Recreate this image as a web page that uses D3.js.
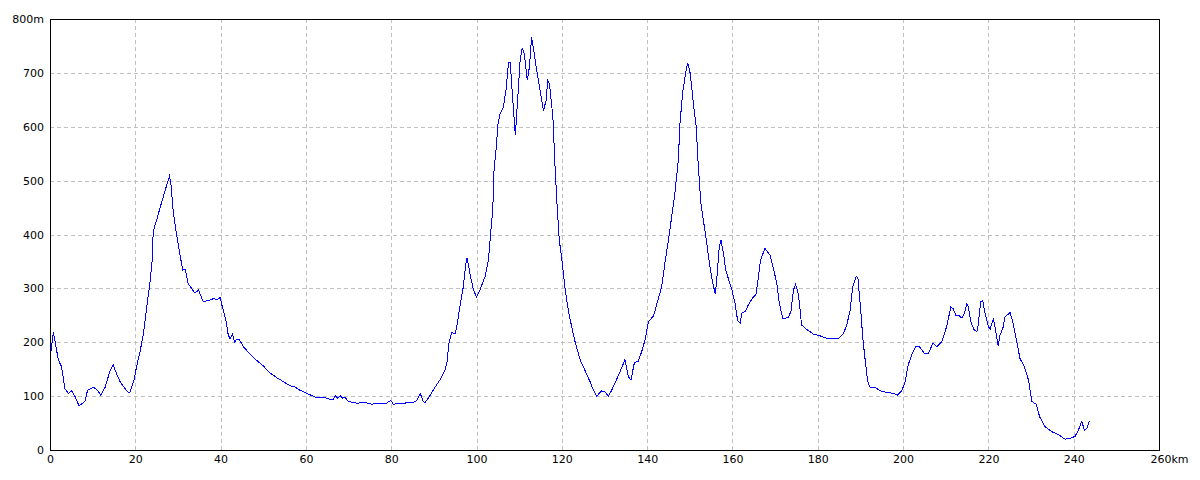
<!DOCTYPE html>
<html>
<head>
<meta charset="utf-8">
<title>Elevation profile</title>
<script src="https://cdn.jsdelivr.net/npm/d3@7"></script>
<style>
  body { margin: 0; background: #fff; }
  svg text { font-family: "DejaVu Sans", sans-serif; font-size: 11px; fill: #000; }
</style>
</head>
<body>
<svg id="chart" width="1200" height="480"></svg>
<script>
// distance along route (km)
var dist = [0, 0.2, 0.78, 1.4, 1.96, 2.7, 3.5, 4.3, 5.1, 5.9, 6.8, 7.8, 8.2, 8.8, 10.2, 10.9, 11.9, 12.9, 14.1, 14.8,
  15.6, 16.4, 17.4, 18.4, 18.8, 19.7, 20.3, 21.1, 21.9, 22.7, 23.4, 23.9, 24.2, 25.0, 26.0, 27.0, 28.0, 28.3, 28.9, 29.5,
  30.3, 31.1, 31.7, 32.4, 33.2, 34.0, 34.8, 35.9, 37.1, 38.3, 39.1, 39.9, 40.3, 41.3, 41.8, 42.2, 42.8, 43.3, 43.8, 44.4,
  45.3, 46.9, 48.5, 50.0, 51.6, 53.2, 54.7, 56.3, 57.4, 58.6, 60.2, 61.4, 62.5, 64.1, 65.7, 66.4, 66.9, 67.4, 68.1, 68.6,
  69.2, 69.9, 71.9, 73.9, 75.4, 77.0, 78.9, 79.9, 80.5, 82.8, 85.2, 86.0, 86.8, 87.5, 87.9, 89.1, 90.3, 91.4, 92.6, 93.2,
  93.4, 94.2, 95.0, 95.5, 96.1, 96.9, 97.5, 97.8, 98.5, 99.3, 100.0, 100.8, 102.0, 102.8, 103.3, 103.8, 104.1, 104.6, 105.0, 105.5,
  106.3, 106.9, 107.5, 107.9, 108.5, 109.1, 109.6, 110.2, 110.7, 111.2, 111.9, 112.4, 112.9, 113.3, 114.1, 114.9, 115.7, 116.3, 116.7, 117.1,
  117.9, 118.4, 118.9, 119.4, 120.0, 120.7, 121.5, 122.3, 123.1, 124.3, 125.4, 126.6, 127.4, 128.2, 129.3, 130.1, 130.9, 131.7, 132.9, 134.0,
  134.8, 135.6, 136.2, 137.0, 137.9, 138.7, 139.5, 140.3, 141.5, 142.2, 143.4, 144.2, 145.0, 145.8, 146.5, 147.3, 147.7, 148.3, 149.0, 149.5,
  150.1, 150.8, 151.5, 152.0, 152.6, 153.3, 154.0, 154.6, 155.4, 156.0, 156.5, 156.9, 157.3, 157.9, 158.4, 159.0, 159.8, 160.6, 161.2, 161.8,
  162.2, 163.0, 163.7, 164.8, 165.5, 166.1, 166.6, 167.6, 168.8, 169.6, 170.4, 171.0, 171.8, 173.1, 173.7, 174.3, 174.8, 175.4, 175.7, 176.2,
  177.4, 179.0, 180.5, 181.7, 183.3, 184.8, 186.0, 186.8, 187.6, 188.2, 189.0, 189.4, 190.0, 190.6, 191.2, 191.7, 192.3, 193.5, 194.6, 196.2,
  197.7, 198.7, 199.7, 200.5, 201.2, 202.0, 203.0, 203.8, 205.0, 205.9, 207.0, 207.9, 209.1, 210.2, 211.2, 211.7, 212.4, 213.0, 213.8, 214.4,
  214.9, 215.3, 215.9, 216.6, 217.3, 217.6, 218.2, 218.7, 219.2, 220.0, 220.4, 221.2, 221.8, 222.3, 222.7, 223.4, 223.9, 225.1, 225.7, 226.5,
  227.4, 228.4, 229.4, 230.2, 231.2, 232.0, 233.3, 234.9, 236.5, 238.0, 239.2, 240.3, 241.1, 241.9, 242.5, 243.1, 243.7];

// elevation (m)
var elev = [175, 182, 219, 192, 167, 155, 114, 105, 110, 99, 82, 88, 90, 111, 116, 113, 102, 116, 148, 158,
  142, 127, 116, 106, 108, 130, 155, 182, 216, 266, 309, 346, 406, 427, 455, 482, 508, 498, 442, 408,
  371, 334, 335, 309, 300, 291, 297, 276, 277, 281, 279, 283, 269, 238, 213, 207, 215, 200, 206, 205,
  192, 178, 166, 156, 143, 134, 127, 119, 117, 111, 105, 101, 97, 98, 94, 94, 101, 96, 100, 96,
  98, 90, 87, 88, 85, 87, 87, 92, 85, 87, 88, 92, 105, 90, 88, 101, 117, 130, 148, 167,
  195, 218, 216, 235, 266, 303, 346, 357, 325, 297, 284, 297, 322, 353, 402, 445, 519, 560, 603, 623,
  637, 668, 719, 719, 649, 584, 646, 721, 746, 736, 686, 711, 766, 748, 705, 668, 630, 649, 686, 680,
  618, 526, 452, 390, 353, 303, 260, 229, 201, 167, 148, 127, 111, 100, 110, 108, 100, 111, 132, 152,
  168, 136, 130, 162, 165, 182, 204, 238, 249, 269, 303, 349, 390, 436, 476, 538, 606, 662, 699, 719,
  699, 646, 600, 526, 458, 420, 383, 346, 309, 289, 334, 377, 390, 365, 334, 319, 300, 272, 241, 235,
  254, 257, 269, 283, 288, 322, 353, 374, 362, 337, 309, 272, 244, 246, 257, 297, 307, 291, 272, 232,
  224, 215, 212, 208, 207, 207, 216, 232, 260, 303, 322, 320, 266, 204, 161, 127, 116, 116, 110, 107,
  105, 102, 110, 127, 158, 176, 192, 192, 179, 179, 198, 192, 201, 229, 265, 263, 250, 250, 245, 254,
  271, 266, 238, 224, 219, 232, 275, 277, 254, 229, 224, 244, 216, 193, 213, 226, 247, 255, 238, 207,
  170, 155, 130, 90, 85, 62, 43, 34, 28, 20, 22, 25, 37, 53, 37, 40, 54];

var xTicks = [0, 20, 40, 60, 80, 100, 120, 140, 160, 180, 200, 220, 240, 260];
var yTicks = [0, 100, 200, 300, 400, 500, 600, 700, 800];

var svg = d3.select("#chart");

var x = d3.scaleLinear().domain([0, 260]).range([50, 1159]);
var y = d3.scaleLinear().domain([0, 800]).range([450, 19]);

// grid
svg.append("g")
   .selectAll("line.vg")
   .data(xTicks.slice(1, -1))
   .enter().append("line")
   .attr("x1", function(d) { return Math.round(x(d)) + 0.5; })
   .attr("x2", function(d) { return Math.round(x(d)) + 0.5; })
   .attr("y1", y(800)).attr("y2", y(0))
   .attr("stroke", "#c0c0c0")
   .attr("stroke-dasharray", "4,3");

svg.append("g")
   .selectAll("line.hg")
   .data(yTicks.slice(1, -1))
   .enter().append("line")
   .attr("y1", function(d) { return Math.round(y(d)) + 0.5; })
   .attr("y2", function(d) { return Math.round(y(d)) + 0.5; })
   .attr("x1", x(0)).attr("x2", x(260))
   .attr("stroke", "#c0c0c0")
   .attr("stroke-dasharray", "4,3");

// profile line
var line = d3.line()
    .x(function(d, i) { return x(dist[i]); })
    .y(function(d, i) { return y(elev[i]); });

svg.append("path")
   .datum(elev)
   .attr("d", line)
   .attr("fill", "none")
   .attr("stroke", "#0000ff")
   .attr("stroke-width", 1)
   .attr("shape-rendering", "crispEdges");

// frame
svg.append("rect")
   .attr("x", x(0) + 0.5).attr("y", y(800) + 0.5)
   .attr("width", x(260) - x(0)).attr("height", y(0) - y(800))
   .attr("fill", "none")
   .attr("stroke", "#000")
   .attr("stroke-width", 1);

// axes labels
var xAxis = d3.axisBottom(x)
    .tickValues(xTicks)
    .tickSize(0)
    .tickPadding(5)
    .tickFormat(function(d) { return d; });

var gx = svg.append("g")
    .attr("transform", "translate(0," + y(0) + ")")
    .call(xAxis);
gx.select(".domain").remove();
gx.selectAll("text").style("font-family", "DejaVu Sans").style("font-size", "11px");
gx.selectAll(".tick").filter(function(d) { return d === 260; })
  .select("text")
  .attr("text-anchor", "start")
  .attr("x", -9)
  .text("260km");

var yAxis = d3.axisLeft(y)
    .tickValues(yTicks)
    .tickSize(0)
    .tickPadding(6)
    .tickFormat(function(d) { return d === 800 ? "800m" : d; });

var gy = svg.append("g")
    .attr("transform", "translate(" + x(0) + ",0)")
    .call(yAxis);
gy.select(".domain").remove();
gy.selectAll("text").style("font-family", "DejaVu Sans").style("font-size", "11px");
</script>
</body>
</html>
